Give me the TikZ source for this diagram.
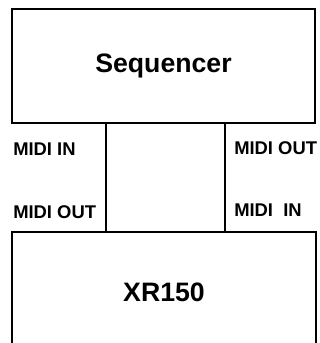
\documentclass[tikz,border=0pt]{standalone}
\usepackage{fontspec}
\setmainfont{Liberation Sans}
\usetikzlibrary{positioning}

\begin{document}
\begin{tikzpicture}[
  x=0.75pt, y=-0.75pt,
  font=\bfseries,
  unit/.style={rectangle, draw=black, line width=1.5pt, inner sep=0pt,
               font=\bfseries\fontsize{20}{24}\selectfont},
  port/.style={anchor=west, inner sep=0pt, font=\bfseries\fontsize{13.8}{16}\selectfont},
  wire/.style={draw=black, line width=1.5pt}
]
\useasboundingbox (0,0) rectangle (320,343);
\clip (0,0) rectangle (320,343);

\node[unit, minimum width=303*0.75pt, minimum height=114*0.75pt] (seq) at (163.5,66) {Sequencer};
\node[unit, minimum width=304*0.75pt, minimum height=120*0.75pt] (xr)  at (164,292) {XR150};

\coordinate (portL) at (106,0);
\coordinate (portR) at (225,0);
\draw[wire] (seq.south -| portL) -- (xr.north -| portL);
\draw[wire] (seq.south -| portR) -- (xr.north -| portR);

\node[port] (inL)  at (13,149)  {MIDI IN};
\node[port] (outL) at (13,212)  {MIDI OUT};
\node[port] (outR) at (234,148) {MIDI OUT};
\node[port] (inR)  at (234,210) {MIDI\ \ IN};
\end{tikzpicture}
\end{document}
